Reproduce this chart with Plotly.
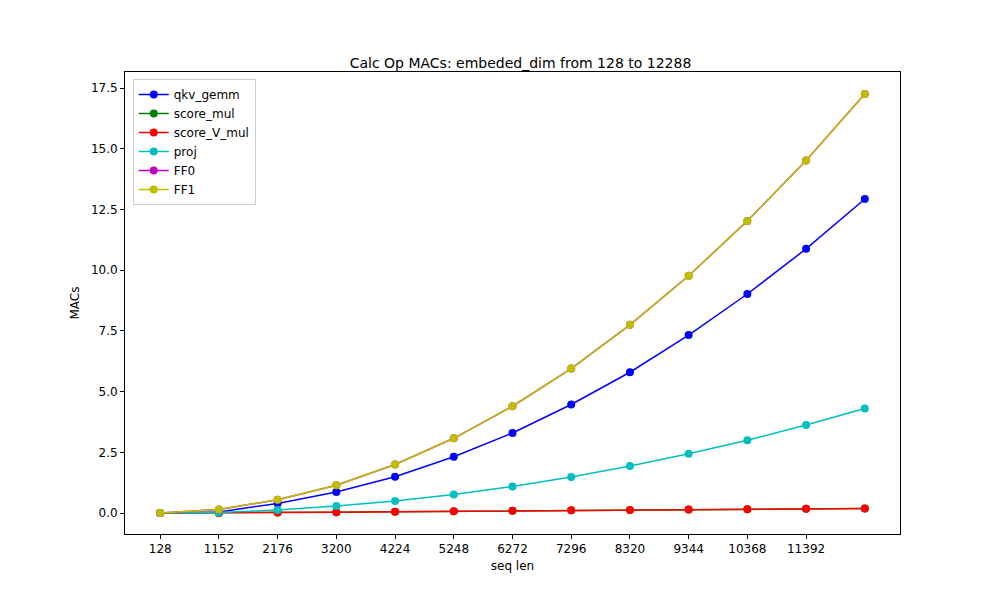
import plotly.graph_objects as go

seq_len = [128 + 1024 * i for i in range(13)]
tick_vals = seq_len[:12]
tick_text = [str(v) for v in tick_vals]

qkv_gemm = [0, 0.05, 0.4, 0.87, 1.5, 2.32, 3.3, 4.47, 5.8, 7.33, 9.02, 10.88, 12.93]
score_mul = [0, 0.005, 0.02, 0.04, 0.06, 0.08, 0.1, 0.115, 0.13, 0.145, 0.16, 0.175, 0.19]
score_V_mul = [0, 0.005, 0.02, 0.04, 0.06, 0.08, 0.1, 0.115, 0.13, 0.145, 0.16, 0.175, 0.19]
proj = [0, 0.02, 0.13, 0.29, 0.5, 0.77, 1.1, 1.49, 1.94, 2.44, 3.0, 3.63, 4.31]
ff0 = [0, 0.15, 0.55, 1.15, 2.0, 3.08, 4.4, 5.95, 7.75, 9.77, 12.03, 14.52, 17.25]
ff1 = [0, 0.15, 0.55, 1.15, 2.0, 3.08, 4.4, 5.95, 7.75, 9.77, 12.03, 14.52, 17.25]

series = [
    ("qkv_gemm", qkv_gemm, "#0000ff"),
    ("score_mul", score_mul, "#008000"),
    ("score_V_mul", score_V_mul, "#ff0000"),
    ("proj", proj, "#00bfbf"),
    ("FF0", ff0, "#bf00bf"),
    ("FF1", ff1, "#bfbf00"),
]

fig = go.Figure()
for name, ys, color in series:
    fig.add_trace(go.Scatter(
        x=seq_len, y=ys, name=name, mode="lines+markers",
        line=dict(color=color, width=1.5),
        marker=dict(color=color, size=8),
    ))

axis_common = dict(
    showgrid=False, zeroline=False, showline=True, mirror=True,
    linecolor="black", linewidth=1, ticks="outside", ticklen=4,
    tickcolor="black", tickfont=dict(size=12, color="black"),
)

fig.update_layout(
    width=1000, height=600,
    paper_bgcolor="white", plot_bgcolor="white",
    font=dict(family="DejaVu Sans", color="black", size=12),
    title=dict(text="Calc Op MACs: embeded_dim from 128 to 12288",
               x=0.5125, xanchor="center", y=0.9, yanchor="bottom",
               font=dict(size=14)),
    margin=dict(l=117, r=108, t=64, b=74),
    xaxis=dict(axis_common, range=[-486, 13030], tickvals=tick_vals,
               ticktext=tick_text, title=dict(text="seq len", standoff=6,
                                              font=dict(size=12))),
    yaxis=dict(axis_common, range=[-0.86, 18.16], dtick=2.5,
               tickformat=".1f", title=dict(text="MACs", standoff=8,
                                            font=dict(size=12))),
    legend=dict(x=0.01, y=0.985, xanchor="left", yanchor="top",
                bgcolor="rgba(255,255,255,0.8)", bordercolor="#cccccc",
                borderwidth=1, font=dict(size=12), tracegroupgap=0),
)

fig.write_html("out.html")
